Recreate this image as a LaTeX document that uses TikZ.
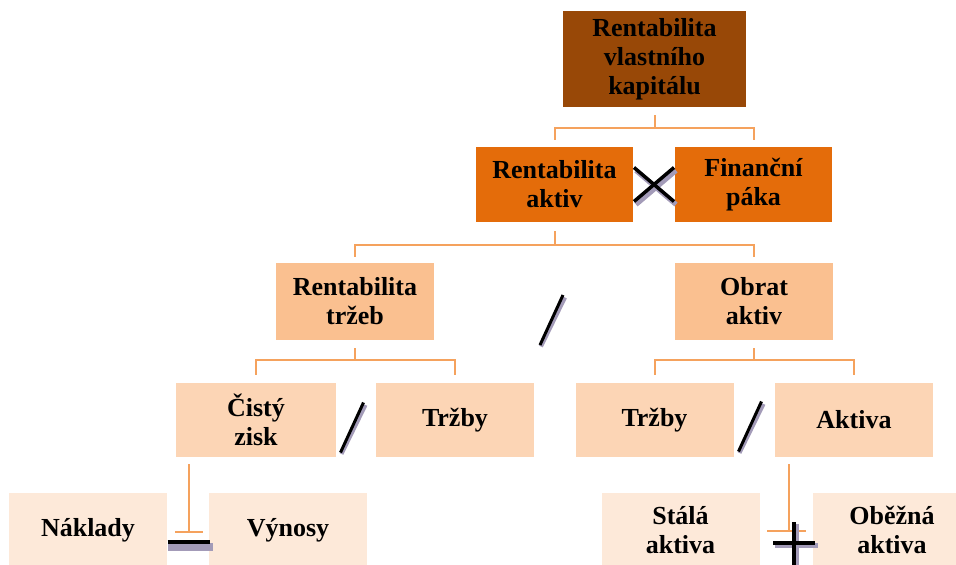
\documentclass[tikz,border=0pt]{standalone}
\usepackage{fontspec}
\setmainfont{Liberation Serif}
\usetikzlibrary{calc}
\definecolor{color1}{HTML}{984807}
\definecolor{color2}{HTML}{E46C0A}
\definecolor{color3}{HTML}{FAC090}
\definecolor{color4}{HTML}{FCD5B5}
\definecolor{color5}{HTML}{FDE9D9}
\definecolor{colorline}{HTML}{F5A25D}
\definecolor{colorshadow}{HTML}{A39BB8}

\begin{document}
\begin{tikzpicture}[x=1pt,y=-1pt,
  box/.style={inner sep=0pt,align=center,minimum width=158pt,minimum height=76pt,
    font=\bfseries\fontsize{26}{29}\selectfont},
  conn/.style={draw=colorline,line width=2pt},
  opshadow/.style={line width=5pt,colorshadow},
  op/.style={line width=3.5pt,black}]

  \useasboundingbox (0,0) rectangle (956,565);

  % boxes
  \node [box,fill=color1,minimum width=183pt,minimum height=96pt] (roe) at (654.5,59) {Rentabilita\\vlastního\\kapitálu};
  \node [box,fill=color2,minimum width=157pt,minimum height=75pt] (ra) at (554.5,184.5) {Rentabilita\\aktiv};
  \node [box,fill=color2,minimum width=157pt,minimum height=75pt] (fp) at (753.5,184.5) {Finanční\\páka};
  \node [box,fill=color3,minimum height=77pt] (rt) at (355,301.5) {Rentabilita\\tržeb};
  \node [box,fill=color3,minimum height=77pt] (oa) at (754,301.5) {Obrat\\aktiv};
  \node [box,fill=color4,minimum width=160pt,minimum height=74pt] (cz) at (256,420) {Čistý\\zisk};
  \node [box,fill=color4,minimum height=74pt] (tr1) at (455,420) {Tržby};
  \node [box,fill=color4,minimum height=74pt] (tr2) at (654.5,420) {Tržby};
  \node [box,fill=color4,minimum height=74pt] (ak) at (854,420) {Aktiva};
  \node [box,fill=color5,minimum height=74pt] (nk) at (88,530) {Náklady};
  \node [box,fill=color5,minimum height=74pt] (vy) at (288,530) {Výnosy};
  \node [box,fill=color5,minimum height=74pt] (sa) at (680.5,530) {Stálá\\aktiva};
  \node [box,fill=color5,minimum height=74pt] (ob) at (892,530) {Oběžná\\aktiva};

  % connectors
  \draw [conn] ([yshift=-8pt]roe.south) -- ++(0,13) coordinate (j1);
  \draw [conn] ([yshift=7pt]ra.north) |- (j1) -| ([yshift=7pt]fp.north);
  \draw [conn] ([yshift=-9pt]ra.south) -- ++(0,14) coordinate (j2);
  \draw [conn] ([yshift=6pt]rt.north) |- (j2) -| ([yshift=6pt]oa.north);
  \draw [conn] ([yshift=-8pt]rt.south) -- ++(0,12) coordinate (j3);
  \draw [conn] ([yshift=8pt]cz.north) |- (j3) -| ([yshift=8pt]tr1.north);
  \draw [conn] ([yshift=-8pt]oa.south) -- ++(0,12) coordinate (j4);
  \draw [conn] ([yshift=8pt]tr2.north) |- (j4) -| ([yshift=8pt]ak.north);
  \draw [conn] ([xshift=-67pt,yshift=-7pt]cz.south) -- ++(0,68) coordinate (t1);
  \draw [conn] ([xshift=-14pt]t1) -- ([xshift=14pt]t1);
  \draw [conn] ([xshift=-65pt,yshift=-7pt]ak.south) -- ++(0,67) coordinate (t2);
  \draw [conn] ([xshift=-22pt]t2) -- ([xshift=17pt]t2);

  % operators
  \coordinate (mul) at ($(ra.east)!0.5!(fp.west)$);
  \coordinate (div1) at (551.5,320);
  \coordinate (div2) at (352,427.5);
  \coordinate (div3) at (750,426.5);
  \coordinate (sub) at (188.5,543);
  \coordinate (add) at (794,543);

  \draw [opshadow] ($(mul)+(-19,-16)+(1,2)$) -- ($(mul)+(21,18)+(1,2)$);
  \draw [opshadow] ($(mul)+(-19,18)+(1,2)$) -- ($(mul)+(21,-16)+(1,2)$);
  \draw [op] ($(mul)+(-20,-17)$) -- ($(mul)+(20,17)$);
  \draw [op] ($(mul)+(-20,17)$) -- ($(mul)+(20,-17)$);

  \foreach \d in {div1,div2,div3}{
    \draw [opshadow,line width=4pt] ($(\d)+(12.5,-24)+(1,1.5)$) -- ($(\d)+(-11.5,25)+(1,1.5)$);
    \draw [op,line width=3pt] ($(\d)+(11.5,-25)$) -- ($(\d)+(-11.5,25)$);
  }

  \draw [opshadow,line width=8pt] ($(sub)+(-21,4)$) -- ($(sub)+(24,4)$);
  \draw [op,line width=4pt] ($(sub)+(-21,-1)$) -- ($(sub)+(21,-1)$);

  \draw [opshadow] ($(add)+(-19,2)$) -- ($(add)+(24,2)$);
  \draw [opshadow] ($(add)+(2,-19)$) -- ($(add)+(2,24)$);
  \draw [op] ($(add)+(-21,0)$) -- ($(add)+(21,0)$);
  \draw [op] ($(add)+(0,-21)$) -- ($(add)+(0,24)$);

\end{tikzpicture}
\end{document}
